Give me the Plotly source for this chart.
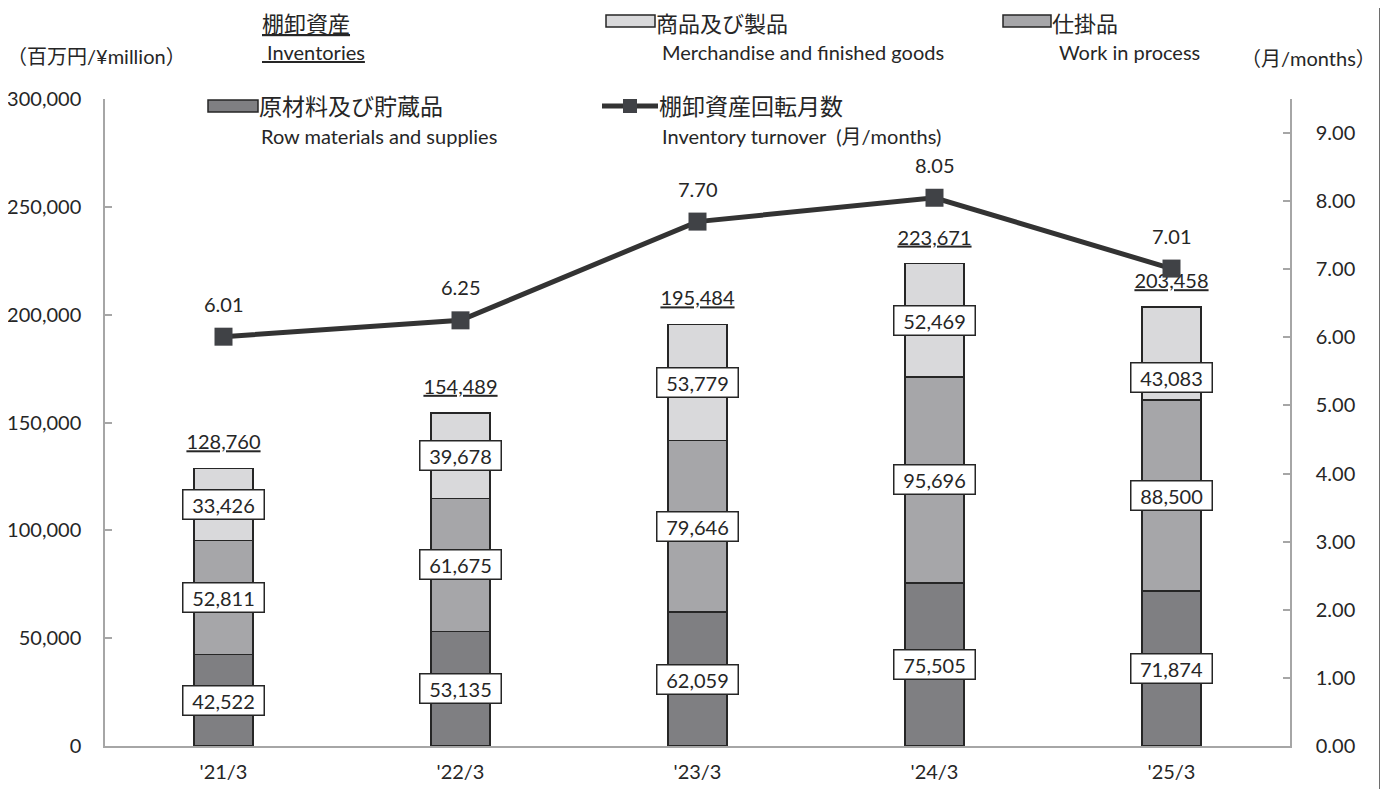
import plotly.graph_objects as go

# data (百万円 / months)
categories = ["'21/3", "'22/3", "'23/3", "'24/3", "'25/3"]
raw_materials = [42522, 53135, 62059, 75505, 71874]
work_in_process = [52811, 61675, 79646, 95696, 88500]
merchandise = [33426, 39678, 53779, 52469, 43083]
totals = [128760, 154489, 195484, 223671, 203458]
turnover = [6.01, 6.25, 7.70, 8.05, 7.01]

# page body has an 8px margin, so the figure is drawn 8px smaller
OFF = 8
W, H = 1388 - OFF, 789 - OFF
L, T = 105 - OFF, 99 - OFF
PW, PH = 1185, 647
R = W - L - PW
B = H - T - PH
Y_MAX = 300000
Y2_MAX = 9.5

TEXT = '#262626'
FONT = 'Lato, "Noto Sans CJK JP", sans-serif'
C_RAW = '#7f7f82'
C_WIP = '#a6a6a9'
C_MER = '#d9d9db'
AXIS = '#a6a6a6'


def px(x):
    # screen pixel -> paper
    return (x - OFF - L) / PW


def py(y):
    return (H - B - (y - OFF)) / PH


fig = go.Figure()

for vals, col in [(raw_materials, C_RAW), (work_in_process, C_WIP), (merchandise, C_MER)]:
    fig.add_trace(go.Bar(x=categories, y=vals, width=0.25,
                         marker=dict(color=col, line=dict(color=TEXT, width=1.5)),
                         hoverinfo='skip'))

# underlined totals above bars (drawn under the turnover line)
fig.add_trace(go.Scatter(x=categories, y=[t + 24 * Y_MAX / PH for t in totals],
                         mode='text', text=['<u>{:,}</u>'.format(t) for t in totals],
                         textposition='middle center',
                         textfont=dict(size=20, color=TEXT, family=FONT),
                         hoverinfo='skip'))

fig.add_trace(go.Scatter(x=categories, y=turnover, yaxis='y2', mode='lines+markers',
                         line=dict(color='#333333', width=5),
                         marker=dict(symbol='square', size=18, color='#404246'),
                         hoverinfo='skip'))

annotations = []

# boxed segment labels
base = [0] * len(categories)
for si, vals in enumerate([raw_materials, work_in_process, merchandise]):
    for i, v in enumerate(vals):
        shift = -24 if (si == 2 and i == 4) else 0
        annotations.append(dict(x=categories[i], y=base[i] + v / 2, xref='x', yref='y',
                                text='{:,}'.format(v), showarrow=False, yshift=shift,
                                font=dict(size=20, color=TEXT, family=FONT),
                                bgcolor='white', bordercolor=TEXT, borderwidth=1.5,
                                borderpad=2, width=76, height=24))
        base[i] += v

# turnover values
for i, v in enumerate(turnover):
    annotations.append(dict(x=categories[i], y=v, xref='x', yref='y2', yshift=33,
                            text='{:.2f}'.format(v), showarrow=False,
                            font=dict(size=20, color=TEXT, family=FONT)))


def label(x, y, text, size=20):
    annotations.append(dict(x=px(x), y=py(y), xref='paper', yref='paper',
                            xanchor='left', yanchor='middle', text=text, borderpad=0,
                            showarrow=False, font=dict(size=size, color=TEXT, family=FONT)))


label(261, 23, '<u>棚卸資産</u>', 22)
label(261, 52, '<u>\u00a0Inventories</u>')
label(655, 23, '商品及び製品', 22)
label(661, 52, 'Merchandise and finished goods')
label(1051, 23, '仕掛品', 22)
label(1058, 52, 'Work in process')
label(1240, 58, '（月/months）')
label(6, 56, '（百万円/¥million）')
label(258, 106, '原材料及び貯蔵品', 23)
label(260, 136, 'Row materials and supplies')
label(658, 106, '棚卸資産回転月数', 23)
label(661, 136, 'Inventory turnover\u00a0 (月/months)')

shapes = []
for x0, x1, y0, y1, col in [(606, 655, 15, 27, C_MER), (1003, 1051, 15, 27, C_WIP),
                            (208, 258, 100, 112, C_RAW)]:
    shapes.append(dict(type='rect', xref='paper', yref='paper',
                       x0=px(x0), x1=px(x1), y0=py(y1), y1=py(y0),
                       fillcolor=col, line=dict(color=TEXT, width=1.5)))
shapes.append(dict(type='line', xref='paper', yref='paper', x0=px(602), x1=px(658),
                   y0=py(106), y1=py(106), line=dict(color='#333333', width=5)))
shapes.append(dict(type='rect', xref='paper', yref='paper', x0=px(623), x1=px(637),
                   y0=py(113), y1=py(99), fillcolor='#404246', line=dict(width=0)))
# frame line at the right edge of the picture
shapes.append(dict(type='line', xref='paper', yref='paper', x0=px(1380), x1=px(1380),
                   y0=py(OFF), y1=py(789), line=dict(color='#6e6e6e', width=2)))

fig.update_layout(
    width=W, height=H, barmode='stack', showlegend=False,
    margin=dict(l=L, r=R, t=T, b=B, autoexpand=False),
    paper_bgcolor='white', plot_bgcolor='white',
    font=dict(family=FONT, color=TEXT, size=20),
    xaxis=dict(range=[-0.5, 4.5], showline=True, linecolor=AXIS, linewidth=1.5,
               showgrid=False, zeroline=False, ticks='', tickfont=dict(size=20),
               ticklabelstandoff=7),
    yaxis=dict(range=[0, Y_MAX], tickvals=list(range(0, Y_MAX + 1, 50000)),
               tickformat=',', showline=True, linecolor=AXIS, linewidth=1.5,
               ticks='inside', ticklen=7, tickcolor=AXIS, tickwidth=1.5,
               showgrid=False, zeroline=False, tickfont=dict(size=20),
               ticklabelstandoff=18),
    yaxis2=dict(range=[0, Y2_MAX], tickvals=list(range(0, 10)), tickformat='.2f',
                overlaying='y', side='right', showline=True, linecolor=AXIS,
                linewidth=1.5, ticks='inside', ticklen=7, tickcolor=AXIS,
                tickwidth=1.5, showgrid=False, zeroline=False,
                tickfont=dict(size=20), ticklabelstandoff=20),
    annotations=annotations, shapes=shapes,
)

fig.write_html("out.html")
